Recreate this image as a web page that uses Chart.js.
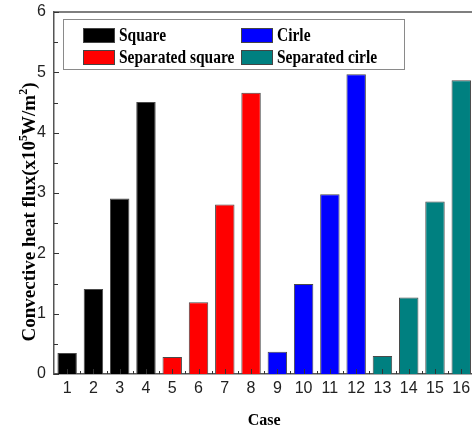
<!DOCTYPE html>
<html>
<head>
<meta charset="utf-8">
<script src="https://cdn.jsdelivr.net/npm/chart.js@4/dist/chart.umd.min.js"></script>
<style>
  html, body { margin: 0; padding: 0; background: #fff; overflow: hidden; width: 472px; height: 434px; }
  #wrap { position: relative; width: 476px; height: 434px; }
</style>
</head>
<body>
<div id="wrap"><canvas id="chart"></canvas></div>
<script>
// Cases 1-16, four geometries of four cases each
const cases = ['1','2','3','4','5','6','7','8','9','10','11','12','13','14','15','16'];
const groupNames = ['Square', 'Separated square', 'Cirle', 'Separated cirle'];
const groupColors = ['#000000', '#ff0000', '#0000ff', '#008080'];
// group index of each case
const caseGroup = [0,0,0,0, 1,1,1,1, 2,2,2,2, 3,3,3,3];
// convective heat flux, x10^5 W/m^2
const heatFlux = [0.35, 1.41, 2.91, 4.51,
                  0.28, 1.19, 2.81, 4.66,
                  0.37, 1.49, 2.98, 4.97,
                  0.30, 1.27, 2.86, 4.87];
const yTicks = [0, 1, 2, 3, 4, 5, 6];

const SERIF = '"Liberation Serif", "Times New Roman", serif';
const SANS = '"Liberation Sans", Arial, sans-serif';
const AXIS = '#555555';

// inward tick marks, top frame line, legend box and y title
const decorations = {
  id: 'decorations',
  afterDraw(chart) {
    const ctx = chart.ctx;
    const area = chart.chartArea;
    const x = chart.scales.x, y = chart.scales.y;
    ctx.save();
    ctx.strokeStyle = AXIS;
    ctx.lineWidth = 1.5;
    ctx.beginPath();
    ctx.moveTo(area.left, area.top);
    ctx.lineTo(area.right, area.top);
    ctx.stroke();

    ctx.lineWidth = 1;
    ctx.strokeStyle = '#333';
    ctx.beginPath();
    for (let v = y.min; v <= y.max + 1e-9; v += 0.5) {
      const py = Math.round(y.getPixelForValue(v)) + 0.5;
      const len = Number.isInteger(v) ? 5 : 4;
      ctx.moveTo(area.left, py);
      ctx.lineTo(area.left + len, py);
    }
    for (let i = 0; i < cases.length; i++) {
      const px = Math.round(x.getPixelForValue(i)) + 0.5;
      ctx.moveTo(px, area.bottom);
      ctx.lineTo(px, area.bottom - 5);
      const half = (x.getPixelForValue(1) - x.getPixelForValue(0)) / 2;
      const bx = Math.round(x.getPixelForValue(i) - half) + 0.5;
      if (i > 0) {
        ctx.moveTo(bx, area.bottom);
        ctx.lineTo(bx, area.bottom - 3);
      }
    }
    ctx.stroke();

    // legend box, two columns
    const box = { l: 63, t: 19, w: 341, h: 50 };
    ctx.fillStyle = '#fff';
    ctx.fillRect(box.l, box.t, box.w, box.h);
    ctx.strokeStyle = '#8a8a8a';
    ctx.lineWidth = 1;
    ctx.strokeRect(box.l + 0.5, box.t + 0.5, box.w, box.h);
    const cols = [83, 241];
    const rows = [35, 57];
    const order = [[0, 0, 0], [2, 1, 0], [1, 0, 1], [3, 1, 1]];
    order.forEach(([g, c, r]) => {
      const sx = cols[c], sy = rows[r];
      ctx.fillStyle = groupColors[g];
      ctx.fillRect(sx, sy - 7, 31, 14);
      ctx.strokeStyle = '#444';
      ctx.strokeRect(sx + 0.5, sy - 6.5, 31, 14);
      ctx.save();
      ctx.translate(sx + 36, sy);
      ctx.scale(0.86, 1);
      ctx.fillStyle = '#000';
      ctx.font = 'bold 18px ' + SERIF;
      ctx.textBaseline = 'middle';
      ctx.textAlign = 'left';
      ctx.fillText(groupNames[g], 0, 1);
      ctx.restore();
    });

    // y axis title with superscripts
    const parts = [
      ['Convective heat flux(x10', false],
      ['5', true],
      ['W/m', false],
      ['2', true],
      [')', false]
    ];
    const big = 'bold 19px ' + SERIF, small = 'bold 12px ' + SERIF;
    let total = 0;
    parts.forEach(([t, sup]) => { ctx.font = sup ? small : big; total += ctx.measureText(t).width; });
    ctx.save();
    ctx.translate(35, 212);
    ctx.rotate(-Math.PI / 2);
    ctx.fillStyle = '#000';
    ctx.textBaseline = 'alphabetic';
    ctx.textAlign = 'left';
    let cx = -total / 2;
    parts.forEach(([t, sup]) => {
      ctx.font = sup ? small : big;
      ctx.fillText(t, cx, sup ? -8 : 0);
      cx += ctx.measureText(t).width;
    });
    ctx.restore();
    ctx.restore();
  }
};

new Chart(document.getElementById('chart'), {
  type: 'bar',
  data: {
    labels: cases,
    datasets: [{
      data: heatFlux,
      backgroundColor: caseGroup.map(g => groupColors[g]),
      borderColor: '#4a4a4a',
      borderWidth: 1,
      barPercentage: 0.74,
      categoryPercentage: 1
    }]
  },
  options: {
    responsive: true,
    maintainAspectRatio: false,
    animation: false,
    devicePixelRatio: 1,
    layout: { padding: { top: 12, right: 1.6, left: 0, bottom: 0 } },
    plugins: { legend: { display: false }, tooltip: { enabled: false } },
    scales: {
      x: {
        grid: { display: false, drawTicks: false },
        border: { display: true, color: AXIS, width: 1.5 },
        ticks: { color: '#222', font: { family: SANS, size: 16 }, padding: 5, maxRotation: 0, autoSkip: false },
        title: { display: true, text: 'Case', color: '#000', font: { family: SERIF, size: 16, weight: 'bold', lineHeight: 1.2 }, padding: { top: 4, bottom: 4 } },
        afterFit(scale) { scale.height = 60; scale.paddingLeft = 0; scale.paddingRight = 0; }
      },
      y: {
        min: 0,
        max: 6,
        afterBuildTicks(scale) { scale.ticks = yTicks.map(v => ({ value: v })); },
        grid: { display: false, drawTicks: false },
        border: { display: true, color: AXIS, width: 1.5 },
        ticks: { color: '#222', font: { family: SANS, size: 16 }, padding: 8 },
        afterFit(scale) { scale.width = 54; scale.paddingTop = 0; scale.paddingBottom = 0; }
      }
    }
  },
  plugins: [decorations]
});
</script>
</body>
</html>
